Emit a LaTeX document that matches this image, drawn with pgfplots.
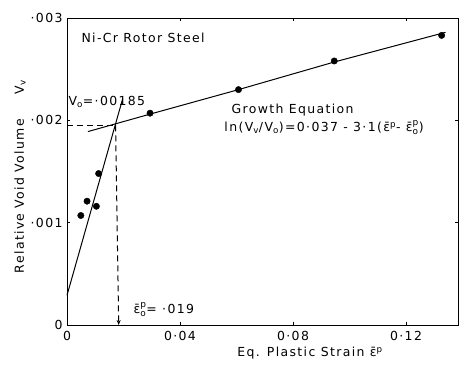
\documentclass[border=0pt]{standalone}
\usepackage{pgfplots}
\pgfplotsset{compat=1.18}
\usepackage{fontspec}
\setmainfont[LetterSpace=11]{DejaVu Sans}
\usetikzlibrary{arrows.meta}
\newcommand{\fs}{\fontsize{12.5}{14}\selectfont}
\newcommand{\epsb}[2]{$\mbox{ε̄}^{\mbox{\fontsize{9}{10}\selectfont #1}}_{\mbox{\fontsize{9}{10}\selectfont #2}}$}
\begin{document}
\begin{tikzpicture}
\path[use as bounding box] (-67bp,-40bp) rectangle (392bp,325bp);
\begin{axis}[
 at={(0,0)}, anchor=south west,
 scale only axis, width=391bp, height=307bp,
 xmin=0, xmax=0.1384, ymin=0, ymax=0.003,
 axis line style={line width=1pt},
 xtick={0,0.04,0.08,0.12}, xticklabels={0,0·04,0·08,0·12},
 ytick={0,0.001,0.002,0.003}, yticklabels={0,·001,·002,·003},
 scaled ticks=false,
 tick align=inside, major tick length=3bp,
 tick style={black, line width=0.8pt},
 ticklabel style={font=\fs},
 xticklabel style={yshift=-3bp},
 yticklabel style={xshift=-1bp},
 clip=false,
]
% data points
\addplot[only marks, mark=*, mark size=3.2bp, black] coordinates {
 (0.0049,0.00107) (0.0071,0.00121) (0.0104,0.00116) (0.0112,0.00148)
 (0.0294,0.00207) (0.0607,0.00230) (0.0946,0.00258) (0.1326,0.00283)};
% steep line
\addplot[black, line width=1pt] coordinates {(0,0.00029) (0.0197,0.00221)};
% growth line
\addplot[black, line width=1pt] coordinates {
 (0.0074,0.00189) (0.0293,0.00206) (0.0607,0.00230) (0.0946,0.00257) (0.134,0.00286)};
% dashed guides
\addplot[black, line width=1pt, dash pattern=on 6bp off 4bp] coordinates {(0,0.00195) (0.0170,0.00195)};
\addplot[black, line width=1pt, dash pattern=on 6bp off 4bp, -{Stealth[length=5bp,width=4bp]}] coordinates {(0.0172,0.00195) (0.0183,0)};
% texts
\node[anchor=west, font=\fs] at (axis cs:0.0039,0.002805) {Ni-Cr Rotor Steel};
\node[anchor=west, font=\fs] at (axis cs:-0.0007,0.00218) {V\textsubscript{o}=·00185};
\node[anchor=west, font=\fs] at (axis cs:0.0570,0.00210) {Growth Equation};
\node[anchor=west, font=\fs] at (axis cs:0.0545,0.001926) {ln(V\textsubscript{v}/V\textsubscript{o})=0·037 - 3·1(ε̄\textsuperscript{p}- \epsb{p}{o})};
\node[anchor=west, font=\fs] at (axis cs:0.0223,0.000150) {\epsb{p}{o}= ·019};
\node[font=\fs] at (axis cs:0.086,-0.000274) {Eq. Plastic Strain ε̄\textsuperscript{p}};
\node[rotate=90, font=\fs] at (axis cs:-0.0166,0.00145) {Relative Void Volume\qquad V\textsubscript{v}};
\end{axis}
\end{tikzpicture}
\end{document}
